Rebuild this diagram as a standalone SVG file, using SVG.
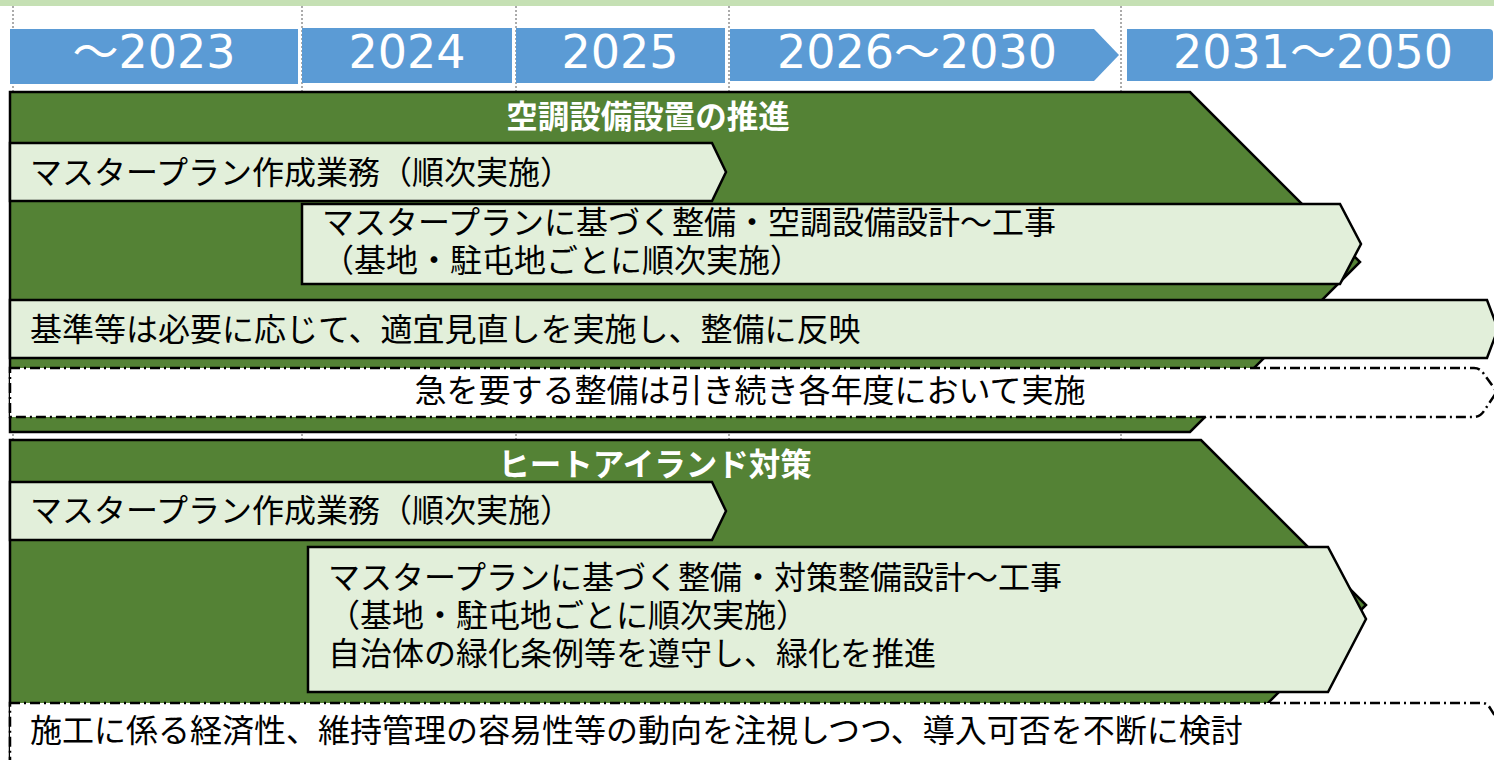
<svg xmlns="http://www.w3.org/2000/svg" width="1494" height="760" viewBox="0 0 1494 760">
<style>
.grid{stroke:#595959;stroke-width:1;stroke-dasharray:2 2;fill:none}
.hdr{fill:#5B9BD5}
.hdrt{font-family:"DejaVu Sans","Noto Sans CJK JP",sans-serif;font-size:46px;fill:#fff;text-anchor:middle}
.sec{fill:#548235;stroke:#000;stroke-width:2.5;stroke-linejoin:miter}
.box{fill:#E2EFDA;stroke:#000;stroke-width:2.5;stroke-linejoin:miter}
.dbox{fill:#fff;stroke:#000;stroke-width:2.5;stroke-dasharray:10 4 2 4}
.t{font-family:"Noto Sans CJK JP",sans-serif;font-size:32px;fill:#000}
.tt{font-family:"Noto Sans CJK JP",sans-serif;font-size:31.5px;font-weight:bold;fill:#fff;text-anchor:middle}
</style>
<rect x="0" y="0" width="1494" height="6" fill="#C5E0B4"/>
<g id="gridlines">
<line class="grid" x1="13" y1="6" x2="13" y2="760"/>
<line class="grid" x1="302" y1="6" x2="302" y2="760"/>
<line class="grid" x1="516" y1="6" x2="516" y2="760"/>
<line class="grid" x1="729" y1="6" x2="729" y2="760"/>
<line class="grid" x1="1121" y1="6" x2="1121" y2="760"/>
</g>
<g id="header">
<g id="h2023"><rect class="hdr" x="10" y="29" width="288" height="55"/><text class="hdrt" x="154" y="68">～2023</text></g>
<g id="h2024"><rect class="hdr" x="302" y="28" width="210" height="55"/><text class="hdrt" x="407" y="68">2024</text></g>
<g id="h2025"><rect class="hdr" x="516" y="28" width="209" height="55"/><text class="hdrt" x="620" y="68">2025</text></g>
<g id="h2026"><path class="hdr" d="M730,29 H1094 L1119,55 L1094,81 H730 Z"/><text class="hdrt" x="917" y="68">2026～2030</text></g>
<g id="h2031"><path class="hdr" d="M1127,29 H1489 Q1493,29 1493,33 V77 Q1493,81 1489,81 H1127 Z"/><text class="hdrt" x="1313" y="68">2031～2050</text></g>
</g>
<g id="section1">
<path class="sec" d="M10,92 H1190 L1360,262 L1190,432 H10 Z"/>
<text class="tt" x="648" y="128">空調設備設置の推進</text>
</g>
<g id="s1-masterplan">
<path class="box" d="M10,143 H712 L726,172 L712,201 H10 Z"/>
<text class="t" x="30" y="184">マスタープラン作成業務（順次実施）</text>
</g>
<g id="s1-seibi">
<path class="box" d="M302,204 H1340 L1361,244 L1340,284 H302 Z"/>
<text class="t"><tspan x="322" y="234">マスタープランに基づく整備・空調設備設計～工事</tspan><tspan x="322" y="272">（基地・駐屯地ごとに順次実施）</tspan></text>
</g>
<g id="s1-kijun">
<path class="box" d="M10,300 H1487 L1498,329 L1487,358 H10 Z"/>
<text class="t" x="30" y="341">基準等は必要に応じて、適宜見直しを実施し、整備に反映</text>
</g>
<g id="s1-kyu">
<path class="dbox" d="M10,368 H1474 Q1480,368 1484,374 L1494,388 Q1497,392 1494,396 L1484,411 Q1480,417 1474,417 H10 Z"/>
<text class="t" x="750" y="402" text-anchor="middle">急を要する整備は引き続き各年度において実施</text>
</g>
<g id="section2">
<path class="sec" d="M10,440 H1201 L1366,605 L1201,770 H10 Z"/>
<text class="tt" x="655" y="476">ヒートアイランド対策</text>
</g>
<g id="s2-masterplan">
<path class="box" d="M10,482 H712 L726,511 L712,540 H10 Z"/>
<text class="t" x="30" y="522">マスタープラン作成業務（順次実施）</text>
</g>
<g id="s2-seibi">
<path class="box" d="M308,547 H1328 L1366,619 L1328,692 H308 Z"/>
<text class="t"><tspan x="328" y="589">マスタープランに基づく整備・対策整備設計～工事</tspan><tspan x="328" y="627">（基地・駐屯地ごとに順次実施）</tspan><tspan x="328" y="665">自治体の緑化条例等を遵守し、緑化を推進</tspan></text>
</g>
<g id="s2-seko">
<path class="dbox" d="M10,703 H1482 Q1487,703 1490,708 L1500,724 V800 H10 Z"/>
<text class="t" x="30" y="742">施工に係る経済性、維持管理の容易性等の動向を注視しつつ、導入可否を不断に検討</text>
</g>
<g id="connectors"></g>
</svg>
